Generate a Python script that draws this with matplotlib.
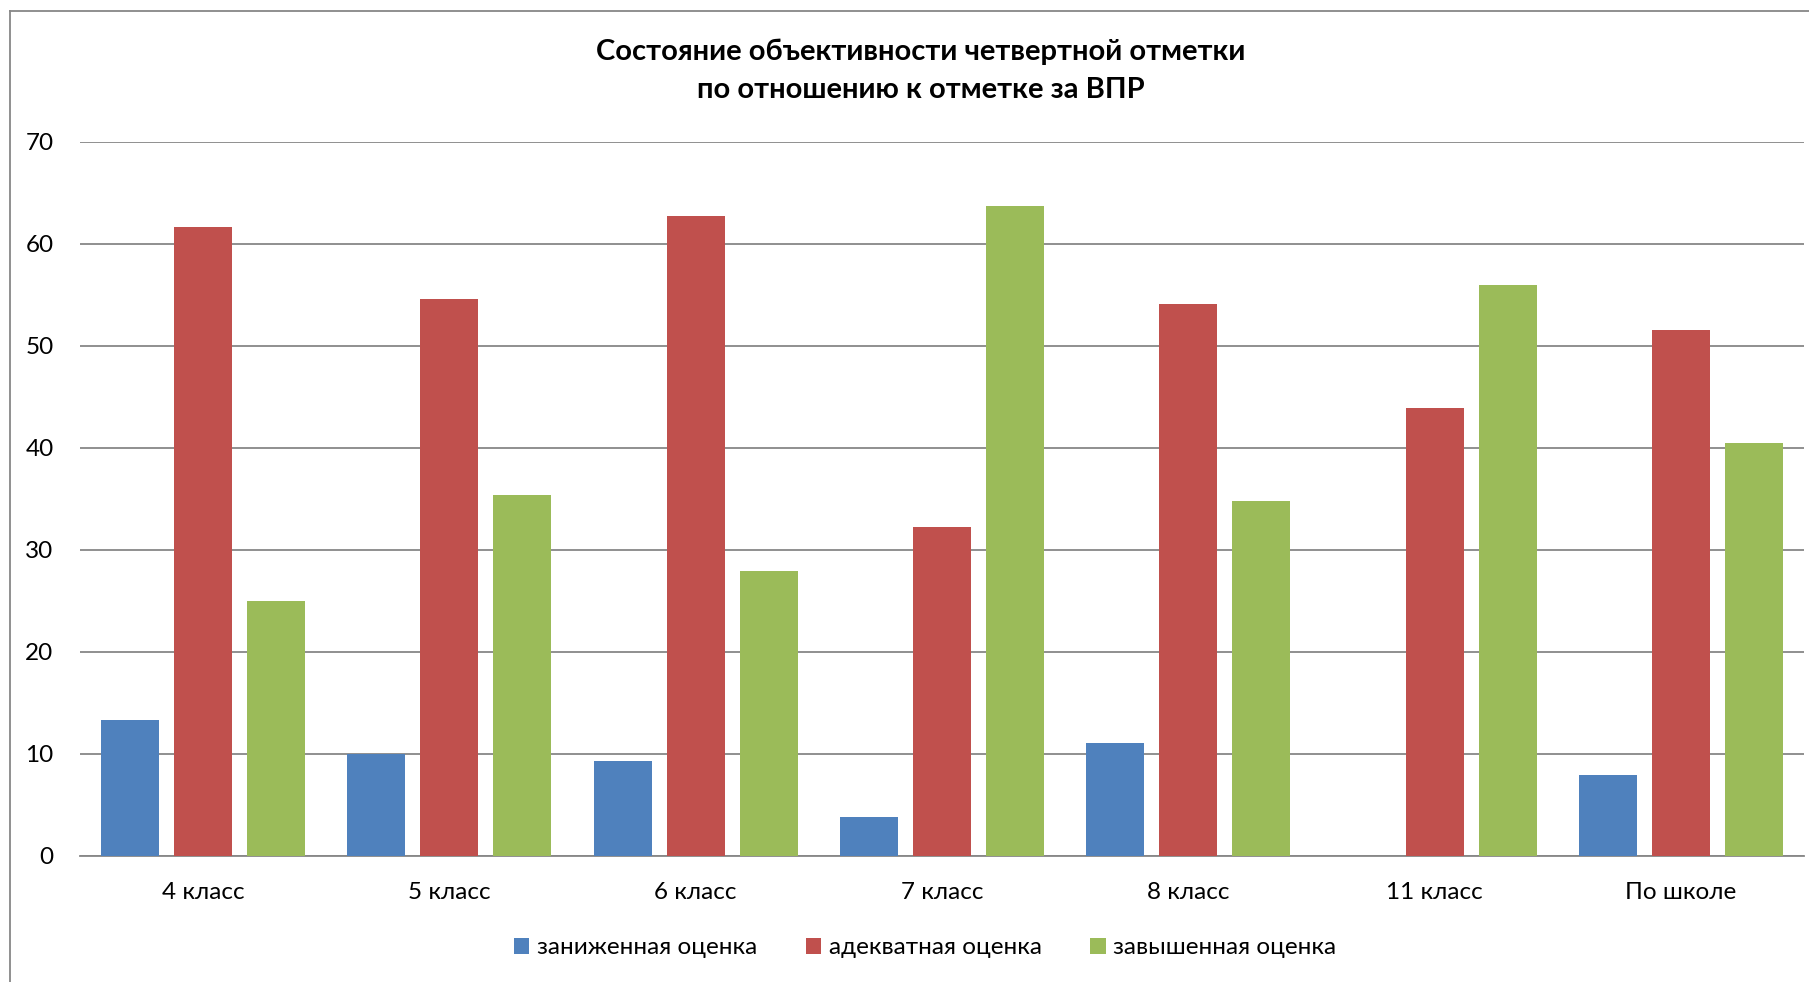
import matplotlib
matplotlib.use("Agg")
import matplotlib.pyplot as plt
import numpy as np
from matplotlib.lines import Line2D

plt.rcParams['font.family'] = ['Lato', 'DejaVu Sans']

categories = ["4 класс", "5 класс", "6 класс", "7 класс", "8 класс", "11 класс", "По школе"]
series_names = ["заниженная оценка", "адекватная оценка", "завышенная оценка"]
underrated = [13.33, 10.0, 9.3, 3.8, 11.1, 0.0, 7.9]
adequate = [61.67, 54.6, 62.7, 32.3, 54.1, 43.9, 51.6]
overrated = [25.0, 35.4, 27.9, 63.7, 34.8, 56.0, 40.5]
y_ticks = [0, 10, 20, 30, 40, 50, 60, 70]
title_text = "Состояние объективности четвертной отметки\nпо отношению к отметке за ВПР"

colors = ["#4F81BD", "#C0504D", "#9BBB59"]
grid_color = "#878787"

W, H = 1809, 982
fig = plt.figure(figsize=(W / 100, H / 100), dpi=100)
ax = fig.add_axes([80 / W, 1 - 856 / H, (1804 - 80) / W, (856 - 142) / H])

x = np.arange(len(categories))
step = 73 / 246.3
bw = 58 / 246.3
for j, (vals, name) in enumerate(zip([underrated, adequate, overrated], series_names)):
    ax.bar(x + (j - 1) * step, vals, width=bw, color=colors[j], label=name,
           linewidth=0, zorder=3)

ax.set_xlim(-0.5, len(categories) - 0.5)
ax.set_ylim(0, 70)
ax.set_yticks(y_ticks)
ax.set_yticklabels([str(v) for v in y_ticks])
ax.set_xticks(x)
ax.set_xticklabels(categories)
ax.yaxis.grid(True, color=grid_color, linewidth=1.3, zorder=0)
ax.set_axisbelow(True)
for s in ["top", "right", "left"]:
    ax.spines[s].set_visible(False)
ax.spines["bottom"].set_color(grid_color)
ax.spines["bottom"].set_linewidth(1.3)
ax.tick_params(axis="y", length=0, pad=19, labelsize=17.5, labelcolor="black")
ax.tick_params(axis="x", length=0, pad=19, labelsize=17.5, labelcolor="black")

fig.text(921 / W, 1 - 71 / H, title_text, ha="center", va="center",
         fontsize=21, fontweight="bold", linespacing=1.55)

leg = fig.legend(loc="center", bbox_to_anchor=(925 / W, 1 - 948 / H), ncol=3,
                 frameon=False, fontsize=17.5, handlelength=0.65, handleheight=0.65,
                 handletextpad=0.3, columnspacing=2.0)

# outer chart border (left and top edges visible)
fig.add_artist(Line2D([10 / W, 10 / W], [0, 1 - 11 / H], transform=fig.transFigure,
                      color=grid_color, linewidth=1.3))
fig.add_artist(Line2D([10 / W, 1], [1 - 11 / H, 1 - 11 / H], transform=fig.transFigure,
                      color=grid_color, linewidth=1.3))

fig.savefig("out.png", dpi=100, facecolor="white")
